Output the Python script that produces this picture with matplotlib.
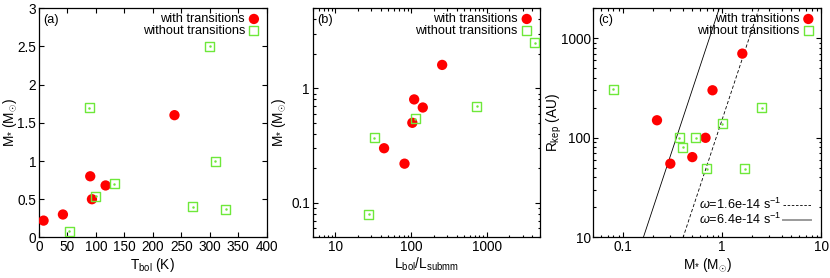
import numpy as np
import matplotlib.pyplot as plt
from matplotlib.lines import Line2D
from matplotlib.ticker import LogLocator, NullFormatter, FixedLocator

plt.rcParams['font.family'] = ['Liberation Sans', 'DejaVu Sans']
plt.rcParams['mathtext.fontset'] = 'custom'
plt.rcParams['mathtext.rm'] = 'Liberation Sans'
plt.rcParams['mathtext.it'] = 'Liberation Sans:italic'
plt.rcParams['font.size'] = 9.8

# sources with transitions (red)
m_with = [0.22, 0.3, 0.8, 0.5, 0.68, 1.6]
tbol_with = [8, 42, 90, 93, 117, 238]
lratio_with = [82, 44, 110, 104, 143, 258]
rkep_with = [150, 55, 300, 64, 100, 700]

# sources without transitions (green)
m_without = [1.7, 2.5, 1.0, 0.4, 0.37, 0.7, 0.54, 0.08]
tbol_without = [88, 300, 310, 270, 328, 132, 100, 53]
lratio_without = [np.nan, 4300, np.nan, np.nan, 32.6, 745, 113, 27.4]
rkep_without = [49, 200, 139, 80, 100, 49, 100, 307]

# model lines R = k * M^3 * omega^2
omegas = [1.6e-14, 6.4e-14]
omega_labels = [r'$\omega$=1.6e-14 s$^{-1}$', r'$\omega$=6.4e-14 s$^{-1}$']
k_coef = 152.0 / (1.6e-14) ** 2

RED = '#ff0000'
GREEN = '#6ee83a'

fig = plt.figure(figsize=(8.3, 2.78), dpi=100)
ax_a = fig.add_axes([0.047, 0.146, 0.2743, 0.8245])
ax_b = fig.add_axes([0.3767, 0.146, 0.2733, 0.8245])
ax_c = fig.add_axes([0.7148, 0.146, 0.2745, 0.8245])


def style_axes(ax):
    ax.tick_params(which='both', direction='in', top=True, right=True,
                   width=0.8, pad=2)
    ax.tick_params(which='major', length=3.5)
    ax.tick_params(which='minor', length=1.8)
    for s in ax.spines.values():
        s.set_linewidth(0.9)


def draw_points(ax, x1, y1, x2, y2):
    ax.scatter(x1, y1, s=55, color=RED, edgecolors='none', zorder=3,
               label='with transitions')
    ax.scatter(x2, y2, s=42, marker='s', facecolors='none',
               edgecolors=GREEN, linewidths=1.0, zorder=3,
               label='without transitions')
    ax.scatter(x2, y2, s=0.6, color=GREEN, zorder=3)
    leg = ax.legend(loc='upper right', frameon=False, markerfirst=False,
                    fontsize=9.2, handletextpad=0.1, borderaxespad=0.2,
                    labelspacing=0.0, handlelength=1.2,
                    borderpad=0.2)
    return leg


def log_ticks(ax, axis):
    a = ax.xaxis if axis == 'x' else ax.yaxis
    a.set_minor_locator(LogLocator(base=10, subs=np.arange(2, 10)))
    a.set_minor_formatter(NullFormatter())


# (a)
style_axes(ax_a)
draw_points(ax_a, tbol_with, m_with, tbol_without, m_without)
ax_a.set_xlim(0, 400)
ax_a.set_ylim(0, 3)
ax_a.set_xticks(np.arange(0, 401, 50))
ax_a.set_yticks(np.arange(0, 3.01, 0.5))
ax_a.set_yticklabels(['0', '0.5', '1', '1.5', '2', '2.5', '3'])
ax_a.set_xlabel(r'T$_{\mathrm{bol}}$ (K)', labelpad=1)
ax_a.set_ylabel(r'M$_{*}$ (M$_{\odot}$)')
ax_a.yaxis.set_label_coords(-0.09, 0.5)
ax_a.text(0.02, 0.975, '(a)', transform=ax_a.transAxes, va='top',
          ha='left', fontsize=9.2)

# (b)
style_axes(ax_b)
draw_points(ax_b, lratio_with, m_with, lratio_without, m_without)
ax_b.set_xscale('log')
ax_b.set_yscale('log')
ax_b.set_xlim(5, 5000)
ax_b.set_ylim(0.05, 5)
ax_b.xaxis.set_major_locator(FixedLocator([10, 100, 1000]))
ax_b.set_xticklabels(['10', '100', '1000'])
ax_b.yaxis.set_major_locator(FixedLocator([0.1, 1]))
ax_b.set_yticklabels(['0.1', '1'])
log_ticks(ax_b, 'x')
log_ticks(ax_b, 'y')
ax_b.set_xlabel(r'L$_{\mathrm{bol}}$/L$_{\mathrm{submm}}$', labelpad=1)
ax_b.set_ylabel(r'M$_{*}$ (M$_{\odot}$)')
ax_b.yaxis.set_label_coords(-0.108, 0.5)
ax_b.text(0.02, 0.975, '(b)', transform=ax_b.transAxes, va='top',
          ha='left', fontsize=9.2)

# (c)
style_axes(ax_c)
leg1 = draw_points(ax_c, m_with, rkep_with, m_without, rkep_without)
ax_c.set_xscale('log')
ax_c.set_yscale('log')
ax_c.set_xlim(0.05, 10)
ax_c.set_ylim(10, 2000)
mm = np.logspace(np.log10(0.05), np.log10(10), 200)
ax_c.plot(mm, k_coef * omegas[0] ** 2 * mm ** 3, color='black', lw=0.6,
          ls=(0, (4, 2.5)), zorder=2)
ax_c.plot(mm, k_coef * omegas[1] ** 2 * mm ** 3, color='black', lw=0.6,
          zorder=2)
ax_c.xaxis.set_major_locator(FixedLocator([0.1, 1, 10]))
ax_c.set_xticklabels(['0.1', '1', '10'])
ax_c.yaxis.set_major_locator(FixedLocator([10, 100, 1000]))
ax_c.set_yticklabels(['10', '100', '1000'])
log_ticks(ax_c, 'x')
log_ticks(ax_c, 'y')
ax_c.set_xlabel(r'M$_{*}$ (M$_{\odot}$)', labelpad=1)
ax_c.set_ylabel(r'R$_{\mathrm{kep}}$ (AU)')
ax_c.yaxis.set_label_coords(-0.128, 0.5)
ax_c.text(0.02, 0.975, '(c)', transform=ax_c.transAxes, va='top',
          ha='left', fontsize=9.2)
handles = [Line2D([], [], color='black', lw=0.6, ls=(0, (3, 2))),
           Line2D([], [], color='#9a9a9a', lw=1.4)]
ax_c.add_artist(leg1)
ax_c.legend(handles, omega_labels, loc='lower right', frameon=False,
            markerfirst=False, fontsize=9.2, handletextpad=0.1,
            borderaxespad=0.6, labelspacing=0.0, handlelength=2.2,
            borderpad=0.2)

fig.savefig('out.png', dpi=100)
